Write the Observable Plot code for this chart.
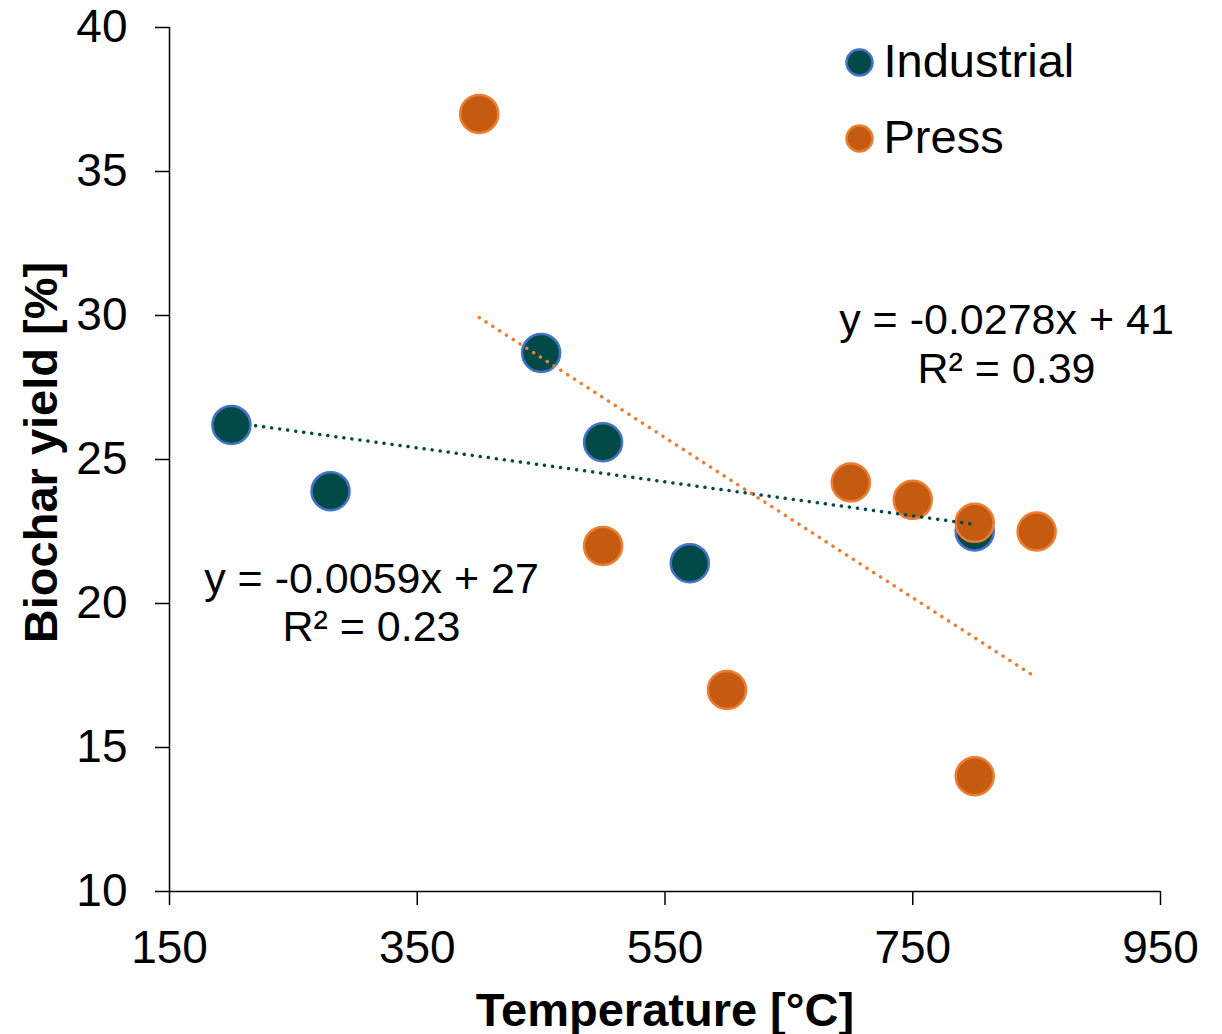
<!DOCTYPE html>
<html>
<head>
<meta charset="utf-8">
<script src="https://cdn.jsdelivr.net/npm/d3@7"></script>
<script src="https://cdn.jsdelivr.net/npm/@observablehq/plot@0.6"></script>
<style>
  html, body { margin: 0; padding: 0; background: #fff; }
  #chart { width: 1222px; height: 1034px; }
</style>
</head>
<body>
<div id="chart"></div>
<script>
// ---- data ----
const seriesNames = ["Industrial", "Press"];
const industrialTemp  = [200, 280, 450, 500, 570, 800];
const industrialYield = [26.2, 23.9, 28.7, 25.6, 21.4, 22.5];
const pressTemp  = [400, 500, 600, 700, 750, 800, 800, 850];
const pressYield = [37.0, 22.0, 17.0, 24.2, 23.6, 22.8, 14.0, 22.5];
// linear trendlines (as drawn)
const trendSlope     = [-0.0059, -0.0278];
const trendIntercept = [27.47, 41.05];
const trendLabels = [
  "y = -0.0059x + 27\nR² = 0.23",
  "y = -0.0278x + 41\nR² = 0.39"
];
const xTicks = [150, 350, 550, 750, 950];
const yTicks = [10, 15, 20, 25, 30, 35, 40];
const xTitle = "Temperature [°C]";
const yTitle = "Biochar yield [%]";

// ---- build tables ----
const industrial = industrialTemp.map((t, i) => ({series: seriesNames[0], temp: t, yield: industrialYield[i]}));
const press = pressTemp.map((t, i) => ({series: seriesNames[1], temp: t, yield: pressYield[i]}));
const groups = [industrial, press];
const trend = groups.flatMap((g, k) => {
  const [x0, x1] = d3.extent(g, d => d.temp);
  return [x0, x1].map(x => ({series: seriesNames[k], temp: x, yield: trendIntercept[k] + trendSlope[k] * x}));
});

const FONT = "'Liberation Sans', Arial, Helvetica, sans-serif";
const fillC   = {Industrial: "#014a47", Press: "#c55a11"};
const strokeC = {Industrial: "#4472c4", Press: "#ed7d31"};
const trendC  = {Industrial: "#014a47", Press: "#ed7d31"};

const chart = Plot.plot({
  width: 1222,
  height: 1034,
  marginLeft: 169,
  marginRight: 62,
  marginTop: 27,
  marginBottom: 143,
  style: {fontFamily: FONT, background: "#fff", color: "#000"},
  x: {domain: [150, 950], label: null},
  y: {domain: [10, 40], label: null},
  marks: [
    Plot.axisX({ticks: xTicks, tickSize: 14, tickPadding: 25, fontSize: 46, strokeWidth: 1.5, label: null, tickFormat: d => String(d)}),
    Plot.axisY({ticks: yTicks, tickSize: 14, tickPadding: 28, fontSize: 46, strokeWidth: 1.5, label: null, tickFormat: d => String(d)}),
    Plot.ruleY([10], {stroke: "#000", strokeWidth: 1.5}),
    Plot.ruleX([150], {stroke: "#000", strokeWidth: 1.5}),
    // points
    Plot.dot(industrial, {x: "temp", y: "yield", r: 19, fill: fillC.Industrial, stroke: strokeC.Industrial, strokeWidth: 2.5}),
    Plot.dot(press, {x: "temp", y: "yield", r: 19, fill: fillC.Press, stroke: strokeC.Press, strokeWidth: 2.5}),
    // trendlines (dotted)
    Plot.line(trend, {x: "temp", y: "yield", z: "series", stroke: d => trendC[d.series], strokeWidth: 3.5, strokeDasharray: "0.1 8", strokeLinecap: "round"}),
    // trend equations
    Plot.text([trendLabels[0]], {frameAnchor: "top-left", dx: 202, dy: 531, lineAnchor: "top", textAnchor: "middle", fontSize: 43, lineHeight: 1.12, fill: "#000"}),
    Plot.text([trendLabels[1]], {frameAnchor: "top-left", dx: 837, dy: 272, lineAnchor: "top", textAnchor: "middle", fontSize: 43, lineHeight: 1.14, fill: "#000"}),
    // legend
    Plot.dot([seriesNames[0]], {frameAnchor: "top-left", dx: 690, dy: 35, r: 13, fill: fillC.Industrial, stroke: strokeC.Industrial, strokeWidth: 2.5}),
    Plot.dot([seriesNames[1]], {frameAnchor: "top-left", dx: 690, dy: 111, r: 13, fill: fillC.Press, stroke: strokeC.Press, strokeWidth: 2.5}),
    Plot.text([seriesNames[0]], {frameAnchor: "top-left", dx: 714, dy: 34, lineAnchor: "middle", textAnchor: "start", fontSize: 47, fill: "#000"}),
    Plot.text([seriesNames[1]], {frameAnchor: "top-left", dx: 714, dy: 110, lineAnchor: "middle", textAnchor: "start", fontSize: 47, fill: "#000"}),
    // axis titles
    Plot.text([xTitle], {frameAnchor: "bottom", lineAnchor: "bottom", textAnchor: "middle", dy: 134, fontSize: 47, fontWeight: "bold", fill: "#000"}),
    Plot.text([yTitle], {frameAnchor: "left", rotate: -90, lineAnchor: "top", textAnchor: "middle", dx: -146, dy: -7, fontSize: 47, fontWeight: "bold", fill: "#000"})
  ]
});
document.getElementById("chart").appendChild(chart);
</script>
</body>
</html>
